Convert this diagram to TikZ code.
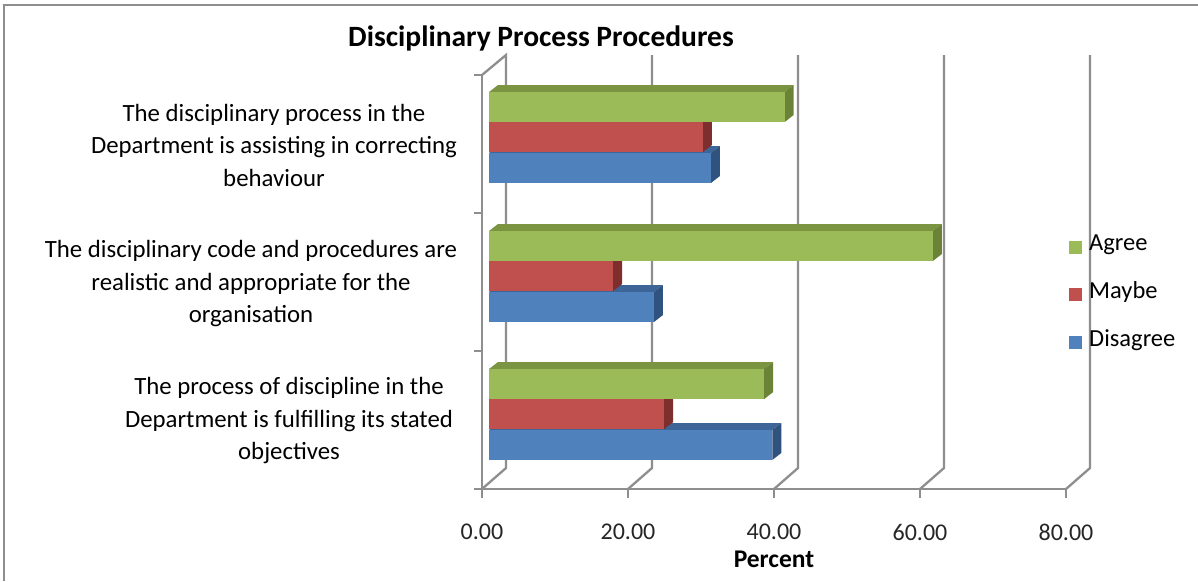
\documentclass[tikz,border=0pt]{standalone}
\usepackage{fontspec}
\setmainfont{Carlito}
\definecolor{agree}{HTML}{9BBB59}
\definecolor{agreetop}{HTML}{7A9441}
\definecolor{agreeside}{HTML}{6A8336}
\definecolor{maybe}{HTML}{C0504D}
\definecolor{maybetop}{HTML}{9C3F3C}
\definecolor{maybeside}{HTML}{7E2F2D}
\definecolor{disagree}{HTML}{4F81BD}
\definecolor{disagreetop}{HTML}{3D6598}
\definecolor{disagreeside}{HTML}{30527F}
\definecolor{gridgray}{HTML}{8E8E8E}
% one 3D bar: colour, top of front face, value
\newcommand{\barbox}[3]{%
  \fill[#1top] (489,#2) -- (498,#2-7) -- ({498+7.3*#3},#2-7) -- ({489+7.3*#3},#2) -- cycle;
  \fill[#1side] ({489+7.3*#3},#2) -- ({498+7.3*#3},#2-7) -- ({498+7.3*#3},#2+23) -- ({489+7.3*#3},#2+30) -- cycle;
  \fill[#1] (489,#2) rectangle ({489+7.3*#3},#2+30);
}
\tikzset{
  grid/.style={draw=gridgray, line width=2.3pt},
  catlabel/.style={align=center, font=\fontsize{24.8}{32.5}\selectfont},
  ticklabel/.style={font=\fontsize{24}{28}\selectfont, text=black!85},
  legendkey/.style={minimum size=13pt, inner sep=0pt},
  legendtext/.style={anchor=west, font=\fontsize{24.5}{28}\selectfont, inner sep=0pt}
}
\begin{document}
\begin{tikzpicture}[x=1pt, y=-1pt]
  \useasboundingbox (0,0) rectangle (1198,581);
  \fill[white] (0,0) rectangle (1198,581);
  % outer frame
  \draw[gridgray, line width=2pt] (4,581) -- (4,5) -- (1198,5);
  % title
  \node[font=\bfseries\fontsize{29.5}{34}\selectfont] (title) at (541,38) {Disciplinary Process Procedures};
  % back walls
  \draw[grid] (482,75) -- (506,55) -- (506,468) -- (482,489);
  \draw[grid] (628,489) -- (652,468) -- (652,55);
  \draw[grid] (774,489) -- (798,468) -- (798,55);
  \draw[grid] (920,489) -- (944,468) -- (944,55);
  \draw[grid] (1066,489) -- (1090,468) -- (1090,55);
  % front axes
  \draw[grid] (482,75) -- (482,489) -- (1066,489);
  \draw[grid] (474,75) -- (482,75);
  \draw[grid] (474,213) -- (482,213);
  \draw[grid] (474,351) -- (482,351);
  \draw[grid] (474,489) -- (482,489);
  \draw[grid] (482,489) -- (482,498);
  \draw[grid] (628,489) -- (628,498);
  \draw[grid] (774,489) -- (774,498);
  \draw[grid] (920,489) -- (920,498);
  \draw[grid] (1066,489) -- (1066,498);
  % group 1
  \barbox{disagree}{153}{30.4}
  \barbox{maybe}{122}{29.3}
  \barbox{agree}{92}{40.5}
  % group 2
  \barbox{disagree}{292}{22.6}
  \barbox{maybe}{261}{17.0}
  \barbox{agree}{231}{60.8}
  % group 3
  \barbox{disagree}{430}{38.8}
  \barbox{maybe}{399}{24.0}
  \barbox{agree}{369}{37.7}
  % category labels
  \node[catlabel] (cat1) at (274,145) {The disciplinary process in the\\Department is assisting in correcting\\behaviour};
  \node[catlabel] (cat2) at (251,284) {The disciplinary code and procedures are\\realistic and appropriate for the\\organisation};
  \node[catlabel] (cat3) at (289,421) {The process of discipline in the\\Department is fulfilling its stated\\objectives};
  % tick labels
  \node[ticklabel] (t0) at (482,532) {0.00};
  \node[ticklabel] (t20) at (628,532) {20.00};
  \node[ticklabel] (t40) at (774,532) {40.00};
  \node[ticklabel] (t60) at (920,532) {60.00};
  \node[ticklabel] (t80) at (1066,532) {80.00};
  \node[font=\bfseries\fontsize{25.5}{28}\selectfont] (xlabel) at (774,559) {Percent};
  % legend
  \node[legendkey, fill=agree] (kagree) at (1075,247) {};
  \node[legendtext] (lagree) at (1089,245) {Agree};
  \node[legendkey, fill=maybe] (kmaybe) at (1075,294) {};
  \node[legendtext] (lmaybe) at (1089,292) {Maybe};
  \node[legendkey, fill=disagree] (kdisagree) at (1075,342) {};
  \node[legendtext] (ldisagree) at (1089,340) {Disagree};
\end{tikzpicture}
\end{document}
